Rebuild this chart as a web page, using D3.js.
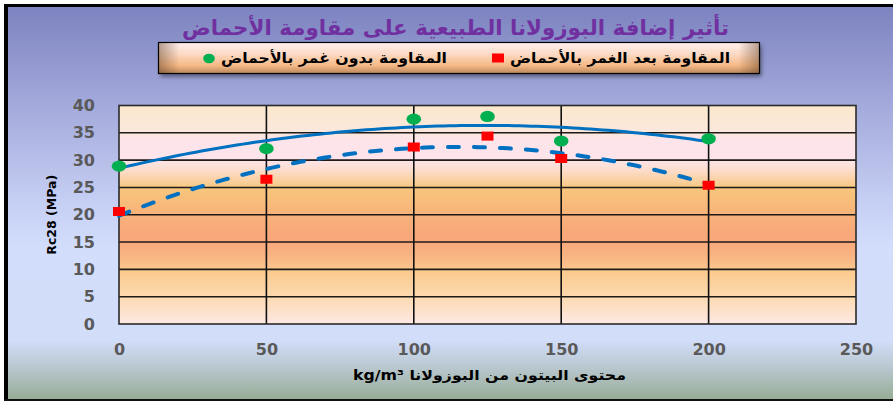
<!DOCTYPE html>
<html>
<head>
<meta charset="utf-8">
<script src="https://cdnjs.cloudflare.com/ajax/libs/d3/7.8.5/d3.min.js"></script>
<style>
  body{margin:0;background:#fff;}
  svg{display:block;}
  .axis .tick text{font-family:"DejaVu Sans",sans-serif;font-weight:bold;font-size:16px;fill:#595959;}
  .ar{font-family:"DejaVu Sans",sans-serif;font-weight:bold;}
</style>
</head>
<body>
<div id="chart"></div>
<script>
//values
var contents = [0, 50, 100, 125, 150, 200];                     // kg/m3 of pozzolana
var strengthNoAcid = [28.9, 32.1, 37.5, 38.0, 33.5, 33.9];        // green dots
var strengthAfterAcid = [20.6, 26.5, 32.4, 34.4, 30.3, 25.4];     // red squares
var xTicks = [0, 50, 100, 150, 200, 250];
var yTicks = [0, 5, 10, 15, 20, 25, 30, 35, 40];

var titleText = 'تأثير إضافة البوزولانا الطبيعية على مقاومة الأحماض';
var legendAfterAcid = 'المقاومة بعد الغمر بالأحماض';
var legendNoAcid = 'المقاومة بدون غمر بالأحماض';
var xTitle = 'محتوى البيتون من  البوزولانا kg/m³';
var yTitle = 'Rc28 (MPa)';

var W = 893, H = 402;
var m = {t:105.5, r:37, b:78, l:119},
    w = W - m.l - m.r,
    h = H - m.t - m.b;

//least squares parabola, like the spreadsheet trendline
function polyfit2(xs, ys){
  var s = [0,0,0,0,0], t = [0,0,0];
  xs.forEach(function(x,i){
    for(var k=0;k<5;k++) s[k] += Math.pow(x,k);
    for(var k2=0;k2<3;k2++) t[k2] += Math.pow(x,k2)*ys[i];
  });
  var A = [[s[0],s[1],s[2]],[s[1],s[2],s[3]],[s[2],s[3],s[4]]];
  function det(M){
    return M[0][0]*(M[1][1]*M[2][2]-M[1][2]*M[2][1])
         - M[0][1]*(M[1][0]*M[2][2]-M[1][2]*M[2][0])
         + M[0][2]*(M[1][0]*M[2][1]-M[1][1]*M[2][0]);
  }
  var D = det(A);
  return [0,1,2].map(function(c){
    var M = A.map(function(row,r){ return row.map(function(v,j){ return j===c ? t[r] : v; }); });
    return det(M)/D;
  });
}

var x = d3.scaleLinear().domain([0,250]).range([0,w]);
var y = d3.scaleLinear().domain([0,40]).range([h,0]);

var svg = d3.select('#chart').append('svg')
    .attr('width', W)
    .attr('height', H);

var defs = svg.append('defs');

function vGrad(id, stops){
  var g = defs.append('linearGradient').attr('id', id)
      .attr('x1',0).attr('y1',0).attr('x2',0).attr('y2',1);
  stops.forEach(function(s){ g.append('stop').attr('offset', s[0]).attr('stop-color', s[1]); });
}
vGrad('bgGrad', [[0,'#7d83bf'],[0.24,'#a2a8da'],[0.5,'#c6cff4'],[0.62,'#d3defc'],[0.85,'#d2ddf9'],[0.92,'#b9c7cf'],[1,'#97ad96']]);
vGrad('plotGrad', [[0,'#fbe8cc'],[0.12,'#fce8dc'],[0.16,'#fde4ea'],[0.25,'#fde4ea'],[0.3,'#fcdcc8'],[0.38,'#f8c67c'],[0.5,'#f8b27a'],[0.6,'#f8a67a'],[0.68,'#f9b282'],[0.76,'#fbca8e'],[0.86,'#fcd8aa'],[1,'#fee8e4']]);
vGrad('legGrad', [[0,'#fff0f0'],[0.35,'#fcdcc8'],[0.75,'#f5b884'],[1,'#b8865c']]);
var hg = defs.append('linearGradient').attr('id','legEdge');
[[0,0.45],[0.035,0],[0.965,0],[1,0.45]].forEach(function(s){
  hg.append('stop').attr('offset',s[0]).attr('stop-color','#5a3a20').attr('stop-opacity',s[1]);
});
var shadow = defs.append('filter').attr('id','shadow').attr('x','-10%').attr('y','-30%').attr('width','120%').attr('height','170%');
shadow.append('feDropShadow').attr('dx',2).attr('dy',3).attr('stdDeviation',2).attr('flood-color','#000').attr('flood-opacity',0.45);

//stretch a text to the width it has in the picture
function fit(sel, width){
  return sel.attr('textLength', width).attr('lengthAdjust','spacingAndGlyphs');
}

//chart frame
svg.append('rect').attr('x',8).attr('y',7).attr('width',W-8).attr('height',392).attr('fill','url(#bgGrad)');
svg.append('rect').attr('x',4).attr('y',4).attr('width',4).attr('height',397).attr('fill','#000');
svg.append('rect').attr('x',4).attr('y',4).attr('width',W-4).attr('height',3).attr('fill','#000');
svg.append('rect').attr('x',4).attr('y',399).attr('width',W-4).attr('height',2).attr('fill','#111');

//title
fit(svg.append('text').attr('class','ar')
    .attr('x',455.5).attr('y',35)
    .attr('text-anchor','middle').attr('direction','rtl')
    .attr('font-size',21).attr('fill','#7030a0')
    .text(titleText), 547);

//legend
var leg = svg.append('g');
leg.append('rect').attr('x',158.5).attr('y',42.5).attr('width',601).attr('height',31)
    .attr('fill','url(#legGrad)').attr('filter','url(#shadow)');
leg.append('rect').attr('x',158.5).attr('y',42.5).attr('width',601).attr('height',31)
    .attr('fill','url(#legEdge)').attr('stroke','#000').attr('stroke-width',1.2);

var legItems = [
  {label:legendAfterAcid, right:730, len:220, type:'square'},
  {label:legendNoAcid, right:447, len:226, type:'circle'}
];
legItems.forEach(function(d){
  fit(leg.append('text').attr('class','ar')
      .attr('x',d.right - d.len/2).attr('y',62.5)
      .attr('text-anchor','middle').attr('direction','rtl')
      .attr('font-size',14.5).attr('fill','#000')
      .text(d.label), d.len);
  var mx = d.right - d.len - 12;
  if(d.type === 'square'){
    leg.append('rect').attr('x',mx-6).attr('y',53.5).attr('width',12).attr('height',9).attr('fill','#ff0000');
  } else {
    leg.append('ellipse').attr('cx',mx).attr('cy',58.5).attr('rx',5.8).attr('ry',4.8).attr('fill','#00b050');
  }
});

var plot = svg.append('g').attr('transform','translate('+m.l+','+m.t+')');

plot.append('rect').attr('width',w).attr('height',h).attr('fill','url(#plotGrad)');

//grid
plot.append('g')
    .selectAll('line')
    .data(yTicks.filter(function(d){ return d > 0 && d < 40; }))
    .enter().append('line')
    .attr('x1',0).attr('x2',w)
    .attr('y1',function(d){ return y(d); }).attr('y2',function(d){ return y(d); })
    .attr('stroke','#1e1a18').attr('stroke-width',1.6);
plot.append('g')
    .selectAll('line')
    .data(xTicks.filter(function(d){ return d > 0 && d < 250; }))
    .enter().append('line')
    .attr('y1',0).attr('y2',h)
    .attr('x1',function(d){ return x(d); }).attr('x2',function(d){ return x(d); })
    .attr('stroke','#111').attr('stroke-width',1.6);

plot.append('rect').attr('width',w).attr('height',h)
    .attr('fill','none').attr('stroke','#2a2a2a').attr('stroke-width',1.6);

//axes (labels only)
var yAxis = plot.append('g').attr('class','axis')
    .attr('transform','translate(-24,0)')
    .call(d3.axisLeft(y).tickValues(yTicks).tickSize(0).tickPadding(0));
yAxis.select('.domain').remove();

var xAxis = plot.append('g').attr('class','axis')
    .attr('transform','translate(0,'+h+')')
    .call(d3.axisBottom(x).tickValues(xTicks).tickSize(0).tickPadding(20));
xAxis.select('.domain').remove();

svg.append('text').attr('class','ar')
    .attr('transform','translate(56,'+(m.t + h/2)+') rotate(-90)')
    .attr('text-anchor','middle')
    .attr('font-size',12.5).attr('fill','#000')
    .text(yTitle);

fit(svg.append('text').attr('class','ar')
    .attr('x', 489.5).attr('y',380)
    .attr('text-anchor','middle').attr('direction','rtl')
    .attr('font-size',13.5).attr('fill','#000')
    .text(xTitle), 273);

//trendlines
var line = d3.line()
    .x(function(d){ return x(d[0]); })
    .y(function(d){ return y(d[1]); });

function trend(ys){
  var c = polyfit2(contents, ys);
  var x0 = d3.min(contents), x1 = d3.max(contents);
  return d3.range(x0, x1 + 0.001, (x1 - x0)/100).map(function(v){
    return [v, c[0] + c[1]*v + c[2]*v*v];
  });
}

plot.append('path').datum(trend(strengthNoAcid))
    .attr('d',line).attr('fill','none')
    .attr('stroke','#0070c0').attr('stroke-width',3);
plot.append('path').datum(trend(strengthAfterAcid))
    .attr('d',line).attr('fill','none')
    .attr('stroke','#0070c0').attr('stroke-width',4)
    .attr('stroke-linecap','round')
    .attr('stroke-dasharray','11,15');

//markers
plot.append('g').selectAll('ellipse')
    .data(contents.map(function(c,i){ return [c, strengthNoAcid[i]]; }))
    .enter().append('ellipse')
    .attr('cx',function(d){ return x(d[0]); })
    .attr('cy',function(d){ return y(d[1]); })
    .attr('rx',7.3).attr('ry',5.6)
    .attr('fill','#00b050');

plot.append('g').selectAll('rect')
    .data(contents.map(function(c,i){ return [c, strengthAfterAcid[i]]; }))
    .enter().append('rect')
    .attr('x',function(d){ return x(d[0]) - 6; })
    .attr('y',function(d){ return y(d[1]) - 4.5; })
    .attr('width',12).attr('height',9)
    .attr('fill','#ff0000');
</script>
</body>
</html>
